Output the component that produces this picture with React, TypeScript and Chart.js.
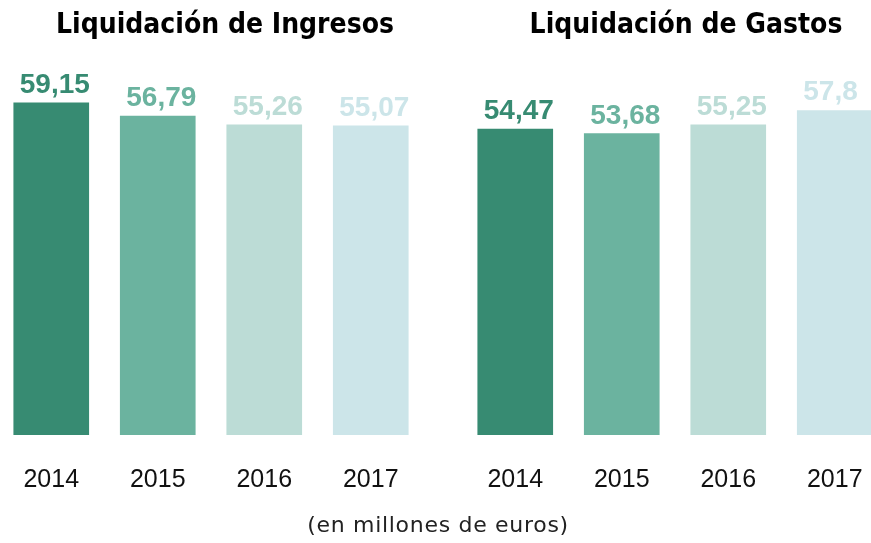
import React, { useEffect, useRef } from "react";
import { Chart, registerables } from "chart.js";

Chart.register(...registerables);

const years = ["2014", "2015", "2016", "2017"];
const ingresos = [59.15, 56.79, 55.26, 55.07];
const gastos = [54.47, 53.68, 55.25, 57.8];
const barColors = ["#378B72", "#6BB39F", "#BCDCD6", "#CCE5E9"];
const titleIngresos = "Liquidación de Ingresos";
const titleGastos = "Liquidación de Gastos";
const footnote = "(en millones de euros)";

const valueLabelPlugin = {
  id: "valueLabels",
  afterDatasetsDraw(chart: any) {
    const ctx = chart.ctx;
    const meta = chart.getDatasetMeta(0);
    const ds = chart.data.datasets[0];
    ctx.save();
    ctx.font = "bold 28px 'Liberation Sans', Arial, sans-serif";
    ctx.textAlign = "left";
    ctx.textBaseline = "alphabetic";
    meta.data.forEach((bar: any, i: number) => {
      const v = ds.data[i] as number;
      ctx.fillStyle = (ds.backgroundColor as string[])[i];
      ctx.fillText(String(v).replace(".", ","), bar.x - bar.width / 2 + 6, bar.y - 10);
    });
    ctx.restore();
  },
};

function BarPanel({ values, left }: { values: number[]; left: number }) {
  const ref = useRef<HTMLCanvasElement>(null);
  useEffect(() => {
    if (!ref.current) return;
    const chart = new Chart(ref.current, {
      type: "bar",
      data: {
        labels: years,
        datasets: [
          {
            data: values,
            backgroundColor: barColors,
            borderWidth: 0,
            barThickness: 75,
          },
        ],
      },
      options: {
        responsive: false,
        animation: false,
        devicePixelRatio: 1,
        layout: { padding: { top: 42, bottom: 48, left: 0, right: 0 } },
        plugins: { legend: { display: false }, tooltip: { enabled: false }, title: { display: false } },
        scales: {
          y: { display: false, min: 0, max: 70 },
          x: {
            grid: { display: false },
            border: { display: false },
            ticks: {
              color: "#111111",
              padding: 22,
              font: { family: "'Liberation Sans', Arial, sans-serif", size: 25 },
            },
            afterFit: (scale: any) => {
              scale.height = 60;
            },
          },
        },
      },
      plugins: [valueLabelPlugin],
    });
    return () => chart.destroy();
  }, []);
  return (
    <canvas
      ref={ref}
      width={426}
      height={543}
      style={{ position: "absolute", left, top: 0, width: 426, height: 543 }}
    />
  );
}

const titleStyle: React.CSSProperties = {
  position: "absolute",
  top: 10,
  width: 400,
  textAlign: "center",
  fontFamily: "'DejaVu Sans Condensed', 'DejaVu Sans', sans-serif",
  fontWeight: "bold",
  fontSize: 28,
  lineHeight: "28px",
  color: "#000000",
  whiteSpace: "nowrap",
};

export default function App() {
  return (
    <div
      style={{
        position: "fixed",
        left: 0,
        top: 0,
        width: 871,
        height: 543,
        overflow: "hidden",
        background: "#ffffff",
      }}
    >
      <BarPanel values={ingresos} left={-2} />
      <BarPanel values={gastos} left={462} />
      <div style={{ ...titleStyle, left: 225 - 200 }}>{titleIngresos}</div>
      <div style={{ ...titleStyle, left: 686 - 200 }}>{titleGastos}</div>
      <div
        style={{
          position: "absolute",
          top: 514,
          left: 438 - 200,
          width: 400,
          textAlign: "center",
          fontFamily: "'DejaVu Sans', sans-serif",
          fontSize: 22,
          lineHeight: "22px",
          letterSpacing: "0.7px",
          color: "#222222",
          whiteSpace: "nowrap",
        }}
      >
        {footnote}
      </div>
    </div>
  );
}
